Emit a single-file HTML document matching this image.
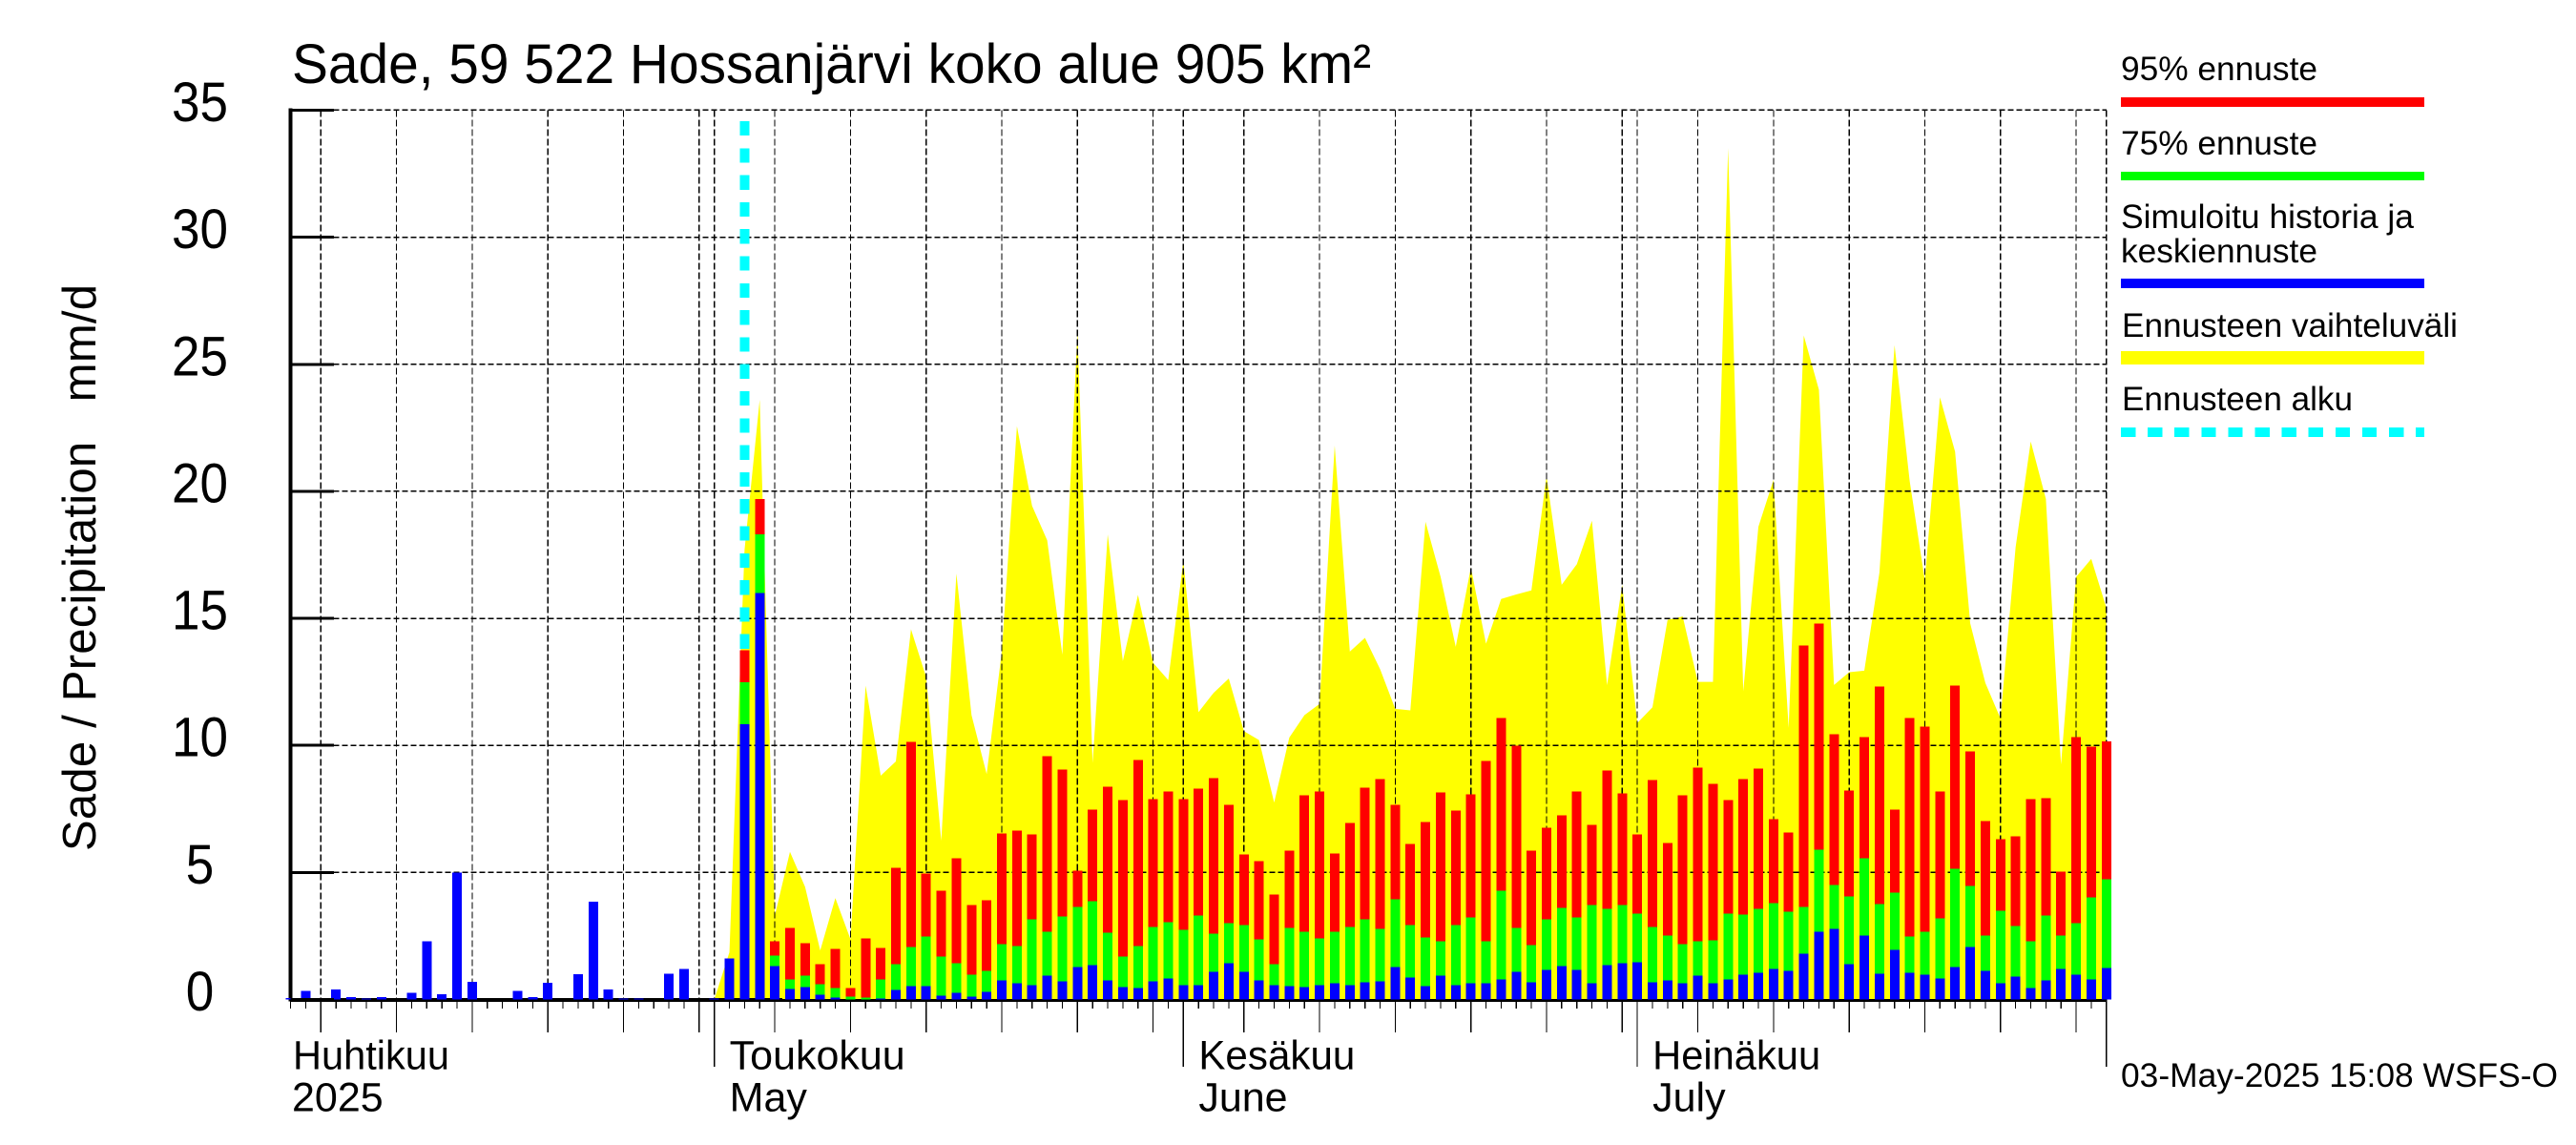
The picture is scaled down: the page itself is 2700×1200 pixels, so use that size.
<!DOCTYPE html>
<html lang="fi">
<head>
<meta charset="utf-8">
<title>Sade, 59 522 Hossanjärvi koko alue 905 km²</title>
<style>
  html, body { margin: 0; padding: 0; background: #fff; }
  body { width: 2700px; height: 1200px; overflow: hidden; }
  svg { display: block; }
  text { font-family: "Liberation Sans", "DejaVu Sans", sans-serif; fill: #000; white-space: pre; }
</style>
</head>
<body>
<svg id="chart" xmlns="http://www.w3.org/2000/svg" width="2700" height="1200" viewBox="0 0 2700 1200">
  <rect x="0" y="0" width="2700" height="1200" fill="#fff"/>
  <g id="plot" shape-rendering="crispEdges"></g>
  <g id="y-labels"></g>
  <g id="x-labels"></g>

  <text x="306" y="87" font-size="58" textLength="1131" lengthAdjust="spacingAndGlyphs">Sade, 59 522 Hossanjärvi koko alue 905 km²</text>
  <text transform="translate(100,892) rotate(-90)" font-size="49" textLength="594" lengthAdjust="spacing">Sade / Precipitation   mm/d</text>

  <g>
    <text x="2223" y="84" font-size="35" textLength="206" lengthAdjust="spacingAndGlyphs">95% ennuste</text>
    <rect x="2223" y="102" width="318" height="10" fill="#ff0000" shape-rendering="crispEdges"/>
    <text x="2223" y="162" font-size="35" textLength="206" lengthAdjust="spacingAndGlyphs">75% ennuste</text>
    <rect x="2223" y="180" width="318" height="9" fill="#00ff00" shape-rendering="crispEdges"/>
    <text x="2223" y="239" font-size="35" textLength="307" lengthAdjust="spacingAndGlyphs">Simuloitu historia ja</text>
    <text x="2223" y="275" font-size="35" textLength="206" lengthAdjust="spacingAndGlyphs">keskiennuste</text>
    <rect x="2223" y="292" width="318" height="10" fill="#0000ff" shape-rendering="crispEdges"/>
    <text x="2224" y="353" font-size="35" textLength="352" lengthAdjust="spacingAndGlyphs">Ennusteen vaihteluväli</text>
    <rect x="2223" y="368" width="318" height="14" fill="#ffff00" shape-rendering="crispEdges"/>
    <text x="2224" y="430" font-size="35" textLength="242" lengthAdjust="spacingAndGlyphs">Ennusteen alku</text>
    <line x1="2223" y1="453" x2="2541" y2="453" stroke="#00ffff" stroke-width="10" stroke-dasharray="15.3 12.8" shape-rendering="crispEdges"/>
  </g>

  <text x="2223" y="1139" font-size="35" textLength="458" lengthAdjust="spacingAndGlyphs">03-May-2025 15:08 WSFS-O</text>
</svg>

<script>
// Data (mm/d). Day index 0 = 3 April 2025.
const historyValues = [0.05,0.34,0.03,0.39,0.09,0.04,0.09,0,0.27,2.3,0.2,5.0,0.69,0,0,0.34,0.09,0.65,0,0.99,3.84,0.39,0.04,0.04,0,1.02,1.2,0,0.03,1.62];
const forecastStartDay = 30;
const forecastMedian = [10.83,15.99,1.31,0.41,0.49,0.19,0.08,0,0,0.04,
  0.38,0.53,0.53,0.15,0.26,0.11,0.30,0.75,0.64,0.56,
  0.94,0.71,1.28,1.35,0.75,0.49,0.45,0.71,0.83,0.56,
  0.56,1.09,1.43,1.09,0.75,0.56,0.53,0.49,0.56,0.64,
  0.56,0.68,0.71,1.28,0.86,0.53,0.94,0.56,0.64,0.64,
  0.79,1.09,0.68,1.16,1.31,1.16,0.64,1.35,1.43,1.46,
  0.68,0.75,0.64,0.94,0.64,0.79,0.98,1.05,1.20,1.13,
  1.80,2.67,2.78,1.39,2.52,1.01,1.95,1.05,0.98,0.83,
  1.28,2.07,1.13,0.64,0.90,0.45,0.75,1.20,0.98,0.79,1.23];
const forecast75 = [12.48,18.3,1.73,0.79,0.94,0.60,0.45,0.11,0.08,0.79,
  1.39,2.07,2.48,1.69,1.43,0.98,1.13,2.18,2.10,3.15,
  2.67,3.27,3.64,3.87,2.63,1.69,2.10,2.85,3.04,2.74,
  3.30,2.59,3.00,2.93,2.37,1.39,2.82,2.67,2.40,2.67,
  2.85,3.15,2.78,3.94,2.93,2.44,2.29,2.93,3.23,2.29,
  4.28,2.82,2.14,3.15,3.60,3.23,3.72,3.57,3.72,3.38,
  2.85,2.52,2.18,2.29,2.33,3.38,3.34,3.57,3.79,3.45,
  3.64,5.89,4.51,4.06,5.56,3.75,4.21,2.48,2.67,3.19,
  5.14,4.47,2.52,3.49,2.89,2.29,3.30,2.52,3.00,4.02,4.73];
const forecast95 = [13.74,19.7,2.29,2.82,2.22,1.39,1.99,0.45,2.40,2.03,
  5.18,10.14,4.96,4.28,5.56,3.72,3.90,6.53,6.65,6.50,
  9.57,9.05,5.07,7.47,8.37,7.85,9.42,7.88,8.19,7.88,
  8.30,8.71,7.66,5.71,5.44,4.13,5.86,8.04,8.19,5.74,
  6.95,8.34,8.67,7.66,6.12,6.98,8.15,7.43,8.07,9.39,
  11.08,9.99,5.86,6.76,7.25,8.19,6.87,9.01,8.11,6.50,
  8.64,6.16,8.04,9.12,8.49,7.85,8.67,9.09,7.10,6.57,
  13.93,14.79,10.44,8.22,10.33,12.32,7.47,11.08,10.74,8.19,
  12.35,9.76,7.02,6.31,6.42,7.88,7.92,5.03,10.33,9.95,10.15];
const rangeStartDay = 28;
const rangeMax = [0,1.86,17.7,23.6,3.3,5.81,4.43,1.93,3.99,2.37,
  12.35,8.81,9.37,14.57,12.69,6.25,16.76,11.19,8.87,13.69,
  22.56,19.43,18.07,13.57,26.27,9.31,18.3,13.32,15.92,13.25,
  12.57,17.26,11.31,12.07,12.63,10.56,10.21,7.75,10.31,11.19,
  11.63,21.8,13.69,14.23,13.0,11.44,11.38,18.8,16.63,13.88,
  17.0,14.0,15.76,15.94,16.1,20.6,16.32,17.13,18.84,12.37,
  16.32,10.88,11.5,14.94,15.07,12.5,12.5,33.5,12.13,18.6,
  20.45,10.69,26.13,24.0,12.38,12.88,12.94,16.8,25.75,20.4,
  16.5,23.7,21.56,14.8,12.46,11.06,17.8,21.96,19.7,9.25,
  16.63,17.34,15.41];
const yTicks = [0,5,10,15,20,25,30,35];
const monthNamesFi = ['Huhtikuu','Toukokuu','Kesäkuu','Heinäkuu'];
const monthNamesEn = ['2025','May','June','July'];
const monthLabelDays = [0,28,59,89];
const totalDays = 120;

// Axis functions
const NS = 'http://www.w3.org/2000/svg';
const X0 = 304.6, DAY = 15.86, Y0 = 1047.5, MM = 26.63;
function xScale(d) { return X0 + d * DAY; }
function yScale(v) { return Y0 - v * MM; }
function dateOf(d) { return new Date(Date.UTC(2025, 3, 3 + d)); }
function make(tag, attrs, parent) {
  const el = document.createElementNS(NS, tag);
  for (const k in attrs) el.setAttribute(k, attrs[k]);
  parent.appendChild(el);
  return el;
}
const plot = document.getElementById('plot');
const yLabels = document.getElementById('y-labels');
const xLabels = document.getElementById('x-labels');

// Yellow forecast range
(function () {
  const pts = [xScale(rangeStartDay) + ',' + yScale(0)];
  rangeMax.forEach(function (v, i) { pts.push(xScale(rangeStartDay + i) + ',' + yScale(v)); });
  pts.push(xScale(rangeStartDay + rangeMax.length - 1) + ',' + yScale(0));
  const el = make('polygon', { points: pts.join(' '), fill: '#ffff00', 'shape-rendering': 'auto' }, plot);
  
  
})();

// Horizontal grid
yTicks.forEach(function (v) {
  if (v === 0) return;
  const el = make('line', { x1: xScale(0), x2: xScale(totalDays), y1: yScale(v), y2: yScale(v), stroke: '#000', 'stroke-width': 1.5, 'stroke-dasharray': '6 3' }, plot);
  
  
});

// Vertical grid + x ticks
for (let d = 0; d <= totalDays; d++) {
  const dom = dateOf(d).getUTCDate();
  const isMonth = dom === 1;
  const isMajor = isMonth || dom % 5 === 0;
  const x = xScale(d);
  if (isMajor) {
    const g = make('line', { x1: x, x2: x, y1: yScale(35), y2: yScale(0), stroke: '#000', 'stroke-width': 1.2, 'stroke-dasharray': '7 3' }, plot);
    
    
  }
  const t = make('line', { x1: x, x2: x, y1: yScale(0), y2: isMonth ? 1118 : (isMajor ? 1082 : 1057), stroke: '#000', 'stroke-width': 1.2 }, plot);
  
  
}

// Forecast start line
(function () {
  const x = xScale(forecastStartDay);
  const el = make('line', { x1: x, x2: x, y1: 127, y2: yScale(0), stroke: '#00ffff', 'stroke-width': 10, 'stroke-dasharray': '15.2 13.1' }, plot);
  
  
})();

// Axes drawn before bars along the baseline, ticks after
(function () {
  const yAxis = make('line', { x1: xScale(0), x2: xScale(0), y1: yScale(35) - 2, y2: yScale(0) + 2, stroke: '#000', 'stroke-width': 4 }, plot);
  
  
  const xAxis = make('line', { x1: xScale(0), x2: xScale(totalDays), y1: yScale(0) + 1, y2: yScale(0) + 1, stroke: '#000', 'stroke-width': 3 }, plot);
  
  
  const histBase = make('line', { x1: xScale(0), x2: xScale(forecastStartDay + 2) + 8, y1: yScale(0) + 0.5, y2: yScale(0) + 0.5, stroke: '#000', 'stroke-width': 4 }, plot);
  
  
})();

// Bars
function bar(d, v, color) {
  const top = yScale(v);
  return make('rect', { x: xScale(d) - 5, y: top, width: 10, height: Math.max(0, yScale(0) - top), fill: color }, plot);
}
historyValues.forEach(function (v, i) {
  if (v <= 0) return;
  const el = bar(i, v, '#0000ff');
  
  
});
forecast95.forEach(function (v, i) {
  const d = forecastStartDay + i;
  const r = bar(d, v, '#ff0000');
  
  
  const g = bar(d, forecast75[i], '#00ff00');
  
  
  const b = bar(d, forecastMedian[i], '#0000ff');
  
  
});

yTicks.forEach(function (v) {
  const y = yScale(v);
  const t = make('line', { x1: xScale(0), x2: 350, y1: y, y2: y, stroke: '#000', 'stroke-width': 3 }, plot);
  
  
  const s = String(v);
  const lab = make('text', { x: 209.5, y: y + 11.5, 'font-size': 58, 'text-anchor': 'middle', textLength: s.length * 29.5, lengthAdjust: 'spacingAndGlyphs' }, yLabels);
  lab.textContent = s;
  
  
});

monthLabelDays.forEach(function (d, i) {
  const x = i === 0 ? 307 : xScale(d) + 16;
  const a = make('text', { x: x, y: 1120.5, 'font-size': 43, textLength: [164, 184, 164, 176][i], lengthAdjust: 'spacingAndGlyphs' }, xLabels);
  a.textContent = monthNamesFi[i];
  
  
  const b = make('text', { x: x - (i === 0 ? 1 : 0), y: 1164.5, 'font-size': 43 }, xLabels);
  b.textContent = monthNamesEn[i];
  
  
});
</script>
</body>
</html>
